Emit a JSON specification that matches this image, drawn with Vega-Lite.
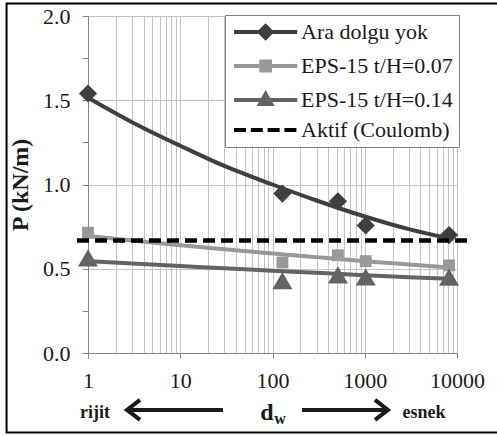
{
  "$schema": "https://vega.github.io/schema/vega-lite/v6.json",
  "width": 369,
  "height": 337,
  "autosize": {"type": "none"},
  "padding": {"left": 88, "top": 16, "right": 40, "bottom": 83},
  "background": "white",
  "config": {
    "view": {"stroke": null},
    "font": "Liberation Serif",
    "legend": {
      "symbolStrokeWidth": 4,
      "symbolSize": 256,
      "symbolOpacity": 1,
      "labelFont": "Liberation Serif",
      "labelFontSize": 22,
      "labelColor": "#1a1a1a",
      "labelOffset": 48,
      "labelLimit": 400,
      "rowPadding": 7,
      "padding": 6,
      "fillColor": "white",
      "strokeColor": "#808080"
    }
  },
  "datasets": {
    "points": [
      {"series": "Ara dolgu yok", "dw": 1, "P": 1.54},
      {"series": "Ara dolgu yok", "dw": 128, "P": 0.946},
      {"series": "Ara dolgu yok", "dw": 512, "P": 0.9},
      {"series": "Ara dolgu yok", "dw": 1024, "P": 0.757},
      {"series": "Ara dolgu yok", "dw": 8192, "P": 0.7},
      {"series": "EPS-15 t/H=0.07", "dw": 1, "P": 0.714},
      {"series": "EPS-15 t/H=0.07", "dw": 128, "P": 0.537},
      {"series": "EPS-15 t/H=0.07", "dw": 512, "P": 0.58},
      {"series": "EPS-15 t/H=0.07", "dw": 1024, "P": 0.545},
      {"series": "EPS-15 t/H=0.07", "dw": 8192, "P": 0.52},
      {"series": "EPS-15 t/H=0.14", "dw": 1, "P": 0.565},
      {"series": "EPS-15 t/H=0.14", "dw": 128, "P": 0.43},
      {"series": "EPS-15 t/H=0.14", "dw": 512, "P": 0.464},
      {"series": "EPS-15 t/H=0.14", "dw": 1024, "P": 0.452},
      {"series": "EPS-15 t/H=0.14", "dw": 8192, "P": 0.45}
    ],
    "trend": [
      {"series": "Ara dolgu yok", "dw": 1, "P": 1.515},
      {"series": "Ara dolgu yok", "dw": 3, "P": 1.37},
      {"series": "Ara dolgu yok", "dw": 10, "P": 1.23},
      {"series": "Ara dolgu yok", "dw": 30, "P": 1.11},
      {"series": "Ara dolgu yok", "dw": 100, "P": 1.0},
      {"series": "Ara dolgu yok", "dw": 300, "P": 0.905},
      {"series": "Ara dolgu yok", "dw": 1000, "P": 0.81},
      {"series": "Ara dolgu yok", "dw": 3000, "P": 0.735},
      {"series": "Ara dolgu yok", "dw": 8192, "P": 0.68},
      {"series": "EPS-15 t/H=0.07", "dw": 1, "P": 0.695},
      {"series": "EPS-15 t/H=0.07", "dw": 3, "P": 0.667},
      {"series": "EPS-15 t/H=0.07", "dw": 10, "P": 0.64},
      {"series": "EPS-15 t/H=0.07", "dw": 30, "P": 0.616},
      {"series": "EPS-15 t/H=0.07", "dw": 100, "P": 0.591},
      {"series": "EPS-15 t/H=0.07", "dw": 300, "P": 0.569},
      {"series": "EPS-15 t/H=0.07", "dw": 1000, "P": 0.545},
      {"series": "EPS-15 t/H=0.07", "dw": 3000, "P": 0.525},
      {"series": "EPS-15 t/H=0.07", "dw": 8192, "P": 0.507},
      {"series": "EPS-15 t/H=0.14", "dw": 1, "P": 0.545},
      {"series": "EPS-15 t/H=0.14", "dw": 3, "P": 0.531},
      {"series": "EPS-15 t/H=0.14", "dw": 10, "P": 0.516},
      {"series": "EPS-15 t/H=0.14", "dw": 30, "P": 0.503},
      {"series": "EPS-15 t/H=0.14", "dw": 100, "P": 0.488},
      {"series": "EPS-15 t/H=0.14", "dw": 300, "P": 0.476},
      {"series": "EPS-15 t/H=0.14", "dw": 1000, "P": 0.462},
      {"series": "EPS-15 t/H=0.14", "dw": 3000, "P": 0.45},
      {"series": "EPS-15 t/H=0.14", "dw": 8192, "P": 0.44}
    ],
    "aktif": [
      {"dw": 0.76, "P": 0.667},
      {"dw": 14500, "P": 0.667}
    ]
  },
  "layer": [
    {
      "data": {"name": "points"},
      "transform": [{"filter": {"field": "series", "equal": "Ara dolgu yok"}}],
      "mark": {"type": "point", "filled": true, "opacity": 1, "shape": "diamond", "size": 330},
      "encoding": {
        "x": {
          "field": "dw", "type": "quantitative",
          "scale": {"type": "log", "domain": [1, 10000], "nice": false},
          "axis": {
            "title": null,
            "values": [1,2,3,4,5,6,7,8,9,10,20,30,40,50,60,70,80,90,100,200,300,400,500,600,700,800,900,1000,2000,3000,4000,5000,6000,7000,8000,9000,10000],
            "labelExpr": "indexof([1,10,100,1000,10000], datum.value) >= 0 ? format(datum.value, 'd') : ''",
            "tickOpacity": {"condition": {"test": "indexof([1,10,100,1000,10000], datum.value) >= 0", "value": 1}, "value": 0},
            "grid": true,
            "gridColor": "#c4c4c4",
            "gridWidth": 1,
            "domainColor": "#868686",
            "tickColor": "#868686",
            "tickSize": 5,
            "labelFont": "Liberation Serif",
            "labelFontSize": 22,
            "labelColor": "#1a1a1a",
            "labelPadding": 12,
            "labelFlush": false,
            "labelOverlap": false,
            "labelBound": false
          }
        },
        "y": {
          "field": "P", "type": "quantitative",
          "scale": {"domain": [0, 2], "nice": false, "zero": false},
          "axis": {
            "title": "P (kN/m)",
            "values": [0, 0.25, 0.5, 0.75, 1, 1.25, 1.5, 1.75, 2],
            "labelExpr": "(datum.value * 2) % 1 == 0 ? format(datum.value, '.1f') : ''",
            "gridOpacity": {"condition": {"test": "(datum.value * 2) % 1 != 0", "value": 0}, "value": 1},
            "grid": true,
            "gridColor": "#c4c4c4",
            "gridWidth": 1,
            "domainColor": "#868686",
            "tickColor": "#868686",
            "tickSize": 6,
            "labelFont": "Liberation Serif",
            "labelFontSize": 22,
            "labelColor": "#1a1a1a",
            "labelPadding": 12,
            "labelOverlap": false,
            "titleFont": "Liberation Serif",
            "titleFontSize": 24,
            "titleFontWeight": "bold",
            "titleColor": "#1a1a1a",
            "titlePadding": 10
          }
        },
        "color": {
          "field": "series", "type": "nominal",
          "scale": {"domain": ["Ara dolgu yok", "EPS-15 t/H=0.07", "EPS-15 t/H=0.14", "Aktif (Coulomb)"], "range": ["#3f3f3f", "#989898", "#636363", "#000000"]},
          "legend": {
            "title": null,
            "orient": "none",
            "legendX": 137,
            "legendY": -1,
            "symbolOpacity": 1,
            "encode": {
              "symbols": {
                "update": {
                  "shape": {"signal": "datum.value === 'Ara dolgu yok' ? 'M-1,0L6.9,0M2.2,0L2.95,-0.75L3.7,0L2.95,0.75Z' : datum.value === 'EPS-15 t/H=0.07' ? 'M-1,0L6.9,0M2.4,-0.55L3.5,-0.55L3.5,0.55L2.4,0.55Z' : datum.value === 'EPS-15 t/H=0.14' ? 'M-1,0L6.9,0M2.95,-0.75L3.65,0.5L2.25,0.5Z' : 'M-1,0L0.5,0M1.1,0L2.6,0M3.2,0L4.7,0M5.3,0L6.8,0'"},
                  "fill": {"scale": "color", "field": "value"},
                  "stroke": {"scale": "color", "field": "value"},
                  "strokeWidth": {"value": 4},
                  "opacity": {"value": 1}
                }
              }
            }
          }
        }
      }
    },
    {
      "data": {"name": "points"},
      "transform": [{"filter": {"field": "series", "equal": "EPS-15 t/H=0.07"}}],
      "mark": {"type": "point", "filled": true, "opacity": 1, "shape": "square", "size": 140},
      "encoding": {
        "x": {"field": "dw", "type": "quantitative", "scale": {"type": "log", "domain": [1, 10000], "nice": false}},
        "y": {"field": "P", "type": "quantitative", "scale": {"domain": [0, 2], "nice": false, "zero": false}},
        "color": {"field": "series", "type": "nominal"}
      }
    },
    {
      "data": {"name": "points"},
      "transform": [{"filter": {"field": "series", "equal": "EPS-15 t/H=0.14"}}],
      "mark": {"type": "point", "filled": true, "opacity": 1, "shape": "triangle-up", "size": 400},
      "encoding": {
        "x": {"field": "dw", "type": "quantitative", "scale": {"type": "log", "domain": [1, 10000], "nice": false}},
        "y": {"field": "P", "type": "quantitative", "scale": {"domain": [0, 2], "nice": false, "zero": false}},
        "color": {"field": "series", "type": "nominal"}
      }
    },
    {
      "data": {"name": "trend"},
      "mark": {"type": "line", "strokeWidth": 4, "interpolate": "monotone"},
      "encoding": {
        "x": {"field": "dw", "type": "quantitative", "scale": {"type": "log", "domain": [1, 10000], "nice": false}},
        "y": {"field": "P", "type": "quantitative", "scale": {"domain": [0, 2], "nice": false, "zero": false}},
        "color": {"field": "series", "type": "nominal"}
      }
    },
    {
      "data": {"name": "aktif"},
      "mark": {"type": "line", "color": "#000000", "strokeWidth": 4.5, "strokeDash": [12, 6]},
      "encoding": {
        "x": {"field": "dw", "type": "quantitative", "scale": {"type": "log", "domain": [1, 10000], "nice": false}},
        "y": {"field": "P", "type": "quantitative", "scale": {"domain": [0, 2], "nice": false, "zero": false}}
      }
    },
    {
      "data": {"values": [{}]},
      "mark": {"type": "rect", "fill": null, "stroke": "#000000", "strokeWidth": 2},
      "encoding": {
        "x": {"datum": 0.131, "type": "quantitative", "scale": {"type": "log", "domain": [1, 10000], "nice": false}},
        "x2": {"datum": 30000},
        "y": {"datum": 2.074, "type": "quantitative", "scale": {"domain": [0, 2], "nice": false, "zero": false}},
        "y2": {"datum": -0.472}
      }
    },
    {
      "data": {"values": [{}]},
      "mark": {"type": "text", "text": "rijit", "fontSize": 18, "fontWeight": "bold", "font": "Liberation Serif", "color": "#1a1a1a", "align": "center", "baseline": "middle"},
      "encoding": {
        "x": {"datum": 1.191, "type": "quantitative"},
        "y": {"datum": -0.356, "type": "quantitative"}
      }
    },
    {
      "data": {"values": [{}]},
      "mark": {"type": "text", "text": "esnek", "fontSize": 18, "fontWeight": "bold", "font": "Liberation Serif", "color": "#1a1a1a", "align": "center", "baseline": "middle"},
      "encoding": {
        "x": {"datum": 4388, "type": "quantitative"},
        "y": {"datum": -0.356, "type": "quantitative"}
      }
    },
    {
      "data": {"values": [{}]},
      "mark": {"type": "text", "text": "d", "fontSize": 24, "fontWeight": "bold", "font": "Liberation Serif", "color": "#1a1a1a", "align": "center", "baseline": "alphabetic"},
      "encoding": {
        "x": {"datum": 87.2, "type": "quantitative"},
        "y": {"datum": -0.398, "type": "quantitative"}
      }
    },
    {
      "data": {"values": [{}]},
      "mark": {"type": "text", "text": "w", "fontSize": 16, "fontWeight": "bold", "font": "Liberation Serif", "color": "#1a1a1a", "align": "center", "baseline": "alphabetic"},
      "encoding": {
        "x": {"datum": 120.6, "type": "quantitative"},
        "y": {"datum": -0.421, "type": "quantitative"}
      }
    },
    {
      "data": {"values": [{}]},
      "mark": {"type": "rule", "color": "#1a1a1a", "strokeWidth": 4},
      "encoding": {
        "x": {"datum": 2.647, "type": "quantitative"},
        "x2": {"datum": 29.07},
        "y": {"datum": -0.338, "type": "quantitative"}
      }
    },
    {
      "data": {"values": [{}]},
      "mark": {"type": "rule", "color": "#1a1a1a", "strokeWidth": 4},
      "encoding": {
        "x": {"datum": 208.8, "type": "quantitative"},
        "x2": {"datum": 1786},
        "y": {"datum": -0.338, "type": "quantitative"}
      }
    },
    {
      "data": {"values": [{}]},
      "mark": {"type": "point", "shape": "M1.3,-1L0,0L1.3,1", "size": 400, "filled": false, "opacity": 1, "stroke": "#1a1a1a", "strokeWidth": 4, "strokeJoin": "miter"},
      "encoding": {
        "x": {"datum": 2.647, "type": "quantitative"},
        "y": {"datum": -0.338, "type": "quantitative"}
      }
    },
    {
      "data": {"values": [{}]},
      "mark": {"type": "point", "shape": "M-1.3,-1L0,0L-1.3,1", "size": 400, "filled": false, "opacity": 1, "stroke": "#1a1a1a", "strokeWidth": 4, "strokeJoin": "miter"},
      "encoding": {
        "x": {"datum": 1786, "type": "quantitative"},
        "y": {"datum": -0.338, "type": "quantitative"}
      }
    }
  ]
}
